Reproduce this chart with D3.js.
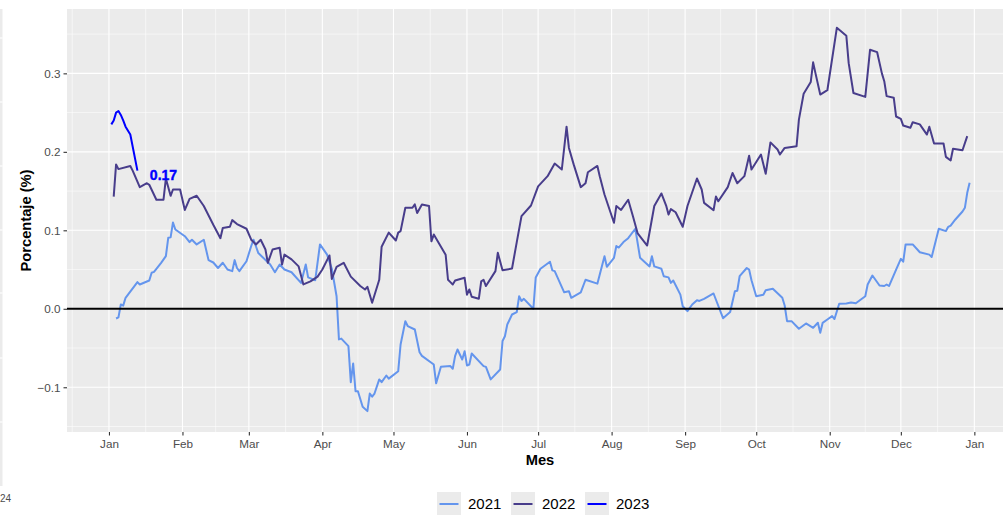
<!DOCTYPE html>
<html>
<head>
<meta charset="utf-8">
<script src="https://cdn.jsdelivr.net/npm/d3@7"></script>
<style>
  body { margin: 0; background: #fff; }
  svg { display: block; font-family: "Liberation Sans", Arial, sans-serif; }
</style>
</head>
<body>
<svg id="chart" width="1003" height="515"></svg>
<script>
// series: day of year (0 = Jan 1) and percentage
const dias2021 = [3, 4, 5, 6, 7, 12, 13, 17, 18, 19, 22, 24, 25, 26, 27, 28, 32, 34, 35, 37, 40, 42, 44, 46, 48, 50, 52, 53, 54, 55, 58, 60, 61, 63, 68, 70, 72, 74, 77, 81, 83, 84, 87, 89, 92, 94, 96, 97, 98, 101, 102, 103, 104, 105, 107, 109, 110, 111, 112, 114, 115, 117, 118, 122, 123, 125, 126, 129, 131, 132, 137, 138, 140, 144, 145, 146, 147, 149, 150, 151, 152, 153, 158, 159, 161, 165, 166, 167, 168, 170, 172, 173, 174, 175, 179, 180, 182, 186, 187, 188, 192, 194, 195, 199, 201, 206, 209, 210, 213, 214, 215, 217, 219, 222, 224, 228, 229, 230, 233, 234, 236, 237, 238, 241, 242, 244, 246, 248, 249, 251, 255, 259, 262, 264, 265, 266, 269, 270, 271, 273, 276, 277, 280, 284, 285, 286, 288, 291, 294, 297, 299, 300, 301, 303, 305, 306, 308, 311, 313, 315, 319, 320, 322, 325, 327, 328, 329, 332, 334, 335, 336, 339, 342, 346, 347, 350, 353, 354, 355, 357, 360, 361, 362, 363];
const valores2021 = [-0.0124, -0.011, 0.0055, 0.004, 0.014, 0.034, 0.031, 0.036, 0.046, 0.047, 0.0586, 0.067, 0.0904, 0.091, 0.110, 0.101, 0.0925, 0.085, 0.088, 0.082, 0.088, 0.062, 0.059, 0.052, 0.0586, 0.050, 0.048, 0.062, 0.052, 0.048, 0.0606, 0.080, 0.088, 0.071, 0.0564, 0.0466, 0.0564, 0.050, 0.0466, 0.033, 0.0564, 0.040, 0.0364, 0.082, 0.069, 0.051, 0.016, -0.039, -0.038, -0.0476, -0.0935, -0.0697, -0.105, -0.105, -0.1249, -0.1304, -0.108, -0.112, -0.108, -0.090, -0.0935, -0.085, -0.089, -0.0795, -0.0455, -0.0158, -0.022, -0.0264, -0.0553, -0.060, -0.071, -0.095, -0.0739, -0.073, -0.0764, -0.060, -0.0519, -0.0646, -0.054, -0.0722, -0.071, -0.057, -0.073, -0.074, -0.090, -0.0773, -0.041, -0.035, -0.020, -0.0073, -0.0043, 0.016, 0.010, 0.0127, 0.0, 0.040, 0.051, 0.060, 0.049, 0.048, 0.021, 0.0224, 0.014, 0.021, 0.037, 0.032, 0.067, 0.0535, 0.065, 0.080, 0.078, 0.085, 0.090, 0.102, 0.065, 0.054, 0.067, 0.054, 0.051, 0.0415, 0.040, 0.033, 0.036, 0.018, 0.0033, -0.003, 0.0055, 0.011, 0.010, 0.0127, 0.0195, -0.012, -0.004, 0.0224, 0.023, 0.0415, 0.052, 0.050, 0.0364, 0.016, 0.018, 0.0237, 0.0255, 0.014, 0.0042, -0.0158, -0.016, -0.0255, -0.0187, -0.0242, -0.0178, -0.0306, -0.018, -0.0136, -0.0094, -0.013, 0.0064, 0.0068, 0.008, 0.007, 0.016, 0.031, 0.0424, 0.0297, 0.029, 0.031, 0.029, 0.050, 0.0637, 0.060, 0.082, 0.082, 0.072, 0.069, 0.066, 0.102, 0.099, 0.1045, 0.106, 0.1138, 0.124, 0.1287, 0.1478, 0.1605];

const dias2022 = [2, 3, 4, 9, 10, 13, 16, 17, 20, 23, 24, 26, 27, 30, 32, 34, 37, 40, 44, 47, 48, 51, 52, 54, 58, 60, 62, 64, 66, 67, 69, 72, 73, 74, 77, 80, 82, 85, 88, 90, 93, 94, 96, 99, 102, 106, 108, 109, 111, 114, 115, 118, 121, 122, 123, 125, 128, 129, 130, 132, 135, 136, 137, 142, 143, 144, 145, 146, 150, 151, 152, 153, 156, 157, 158, 159, 163, 164, 166, 170, 172, 174, 178, 181, 185, 188, 191, 193, 194, 196, 199, 201, 202, 206, 207, 209, 213, 214, 216, 219, 221, 223, 227, 230, 233, 235, 236, 237, 239, 242, 244, 246, 248, 250, 251, 255, 256, 257, 261, 263, 265, 268, 270, 271, 275, 277, 279, 282, 283, 285, 290, 291, 293, 296, 297, 298, 300, 303, 307, 311, 312, 314, 319, 321, 324, 326, 327, 328, 331, 332, 334, 335, 338, 339, 342, 345, 346, 348, 352, 353, 355, 356, 360, 362];
const valores2022 = [0.143, 0.184, 0.178, 0.182, 0.176, 0.155, 0.160, 0.158, 0.139, 0.139, 0.166, 0.144, 0.152, 0.152, 0.126, 0.140, 0.144, 0.131, 0.107, 0.090, 0.103, 0.1045, 0.113, 0.108, 0.102, 0.088, 0.082, 0.088, 0.0755, 0.0586, 0.0755, 0.0777, 0.0564, 0.069, 0.063, 0.054, 0.031, 0.035, 0.041, 0.050, 0.068, 0.038, 0.0535, 0.0586, 0.041, 0.029, 0.0246, 0.028, 0.0076, 0.037, 0.079, 0.097, 0.087, 0.097, 0.099, 0.1287, 0.1287, 0.133, 0.122, 0.133, 0.131, 0.086, 0.0946, 0.069, 0.037, 0.034, 0.031, 0.036, 0.0395, 0.018, 0.0246, 0.0153, 0.0127, 0.035, 0.037, 0.029, 0.048, 0.0713, 0.049, 0.0513, 0.085, 0.118, 0.1316, 0.156, 0.169, 0.185, 0.1775, 0.232, 0.205, 0.184, 0.155, 0.160, 0.174, 0.182, 0.169, 0.1456, 0.1096, 0.131, 0.126, 0.139, 0.118, 0.096, 0.0806, 0.131, 0.147, 0.1316, 0.12, 0.127, 0.123, 0.1045, 0.131, 0.1485, 0.166, 0.152, 0.135, 0.1256, 0.143, 0.137, 0.155, 0.173, 0.16, 0.169, 0.195, 0.1775, 0.1966, 0.172, 0.212, 0.203, 0.1966, 0.205, 0.207, 0.241, 0.274, 0.289, 0.314, 0.30, 0.273, 0.2785, 0.358, 0.348, 0.313, 0.275, 0.27, 0.330, 0.327, 0.30, 0.29, 0.271, 0.269, 0.245, 0.242, 0.2335, 0.2306, 0.2377, 0.235, 0.222, 0.232, 0.2106, 0.2106, 0.1936, 0.189, 0.204, 0.202, 0.22];

const dias2023 = [1, 2, 3, 4, 5, 6, 7, 9, 12];
const valores2023 = [0.235, 0.240, 0.250, 0.252, 0.247, 0.240, 0.232, 0.222, 0.176];

const anios = ["2021", "2022", "2023"];
const colores = ["#6495ED", "#483D8B", "#0000FF"];
const ticksY = [-0.1, 0.0, 0.1, 0.2, 0.3];
const menoresY = [-0.15, -0.05, 0.05, 0.15, 0.25, 0.35];
const etiquetaDia = 23;
const etiquetaValor = 0.17;

const base = new Date(2021, 0, 1);
const toDate = d => d3.timeDay.offset(base, d);
const DAY = 864e5;

const svg = d3.select("#chart");
const panel = { left: 67, top: 9, right: 1013, bottom: 432 };

const x = d3.scaleTime()
  .domain([new Date(base.getTime() - 17.7 * DAY), new Date(base.getTime() + 381.3 * DAY)])
  .range([panel.left, panel.right]);
const y = d3.scaleLinear()
  .domain([-0.157, 0.382])
  .range([panel.bottom, panel.top]);

// leftover strip of a neighbouring plot on the far left
svg.append("rect").attr("x", 0).attr("y", 9).attr("width", 2.5).attr("height", 477).attr("fill", "#EBEBEB");
[38, 102, 166, 230, 293, 358, 422].forEach(yy => {
  svg.append("line").attr("x1", 0).attr("x2", 2.5).attr("y1", yy).attr("y2", yy)
    .attr("stroke", "#fff").attr("stroke-width", 1.1);
});
svg.append("text").attr("x", 0).attr("y", 502).attr("text-anchor", "start")
  .attr("font-size", 10).attr("fill", "#4d4d4d").text("24");

// panel
svg.append("rect")
  .attr("x", panel.left).attr("y", panel.top)
  .attr("width", panel.right - panel.left).attr("height", panel.bottom - panel.top)
  .attr("fill", "#EBEBEB");

const grid = svg.append("g");
const meses = d3.timeMonth.range(new Date(2021, 0, 1), new Date(2022, 0, 2));
const mesesExt = [new Date(2020, 11, 1)].concat(meses, [new Date(2022, 1, 1)]);
const menoresX = d3.pairs(mesesExt).map(([a, b]) => new Date((a.getTime() + b.getTime()) / 2));

menoresY.forEach(v => {
  grid.append("line").attr("x1", panel.left).attr("x2", panel.right)
    .attr("y1", y(v)).attr("y2", y(v)).attr("stroke", "#fff").attr("stroke-width", 0.55);
});
menoresX.forEach(d => {
  grid.append("line").attr("x1", x(d)).attr("x2", x(d))
    .attr("y1", panel.top).attr("y2", panel.bottom).attr("stroke", "#fff").attr("stroke-width", 0.55);
});
ticksY.forEach(v => {
  grid.append("line").attr("x1", panel.left).attr("x2", panel.right)
    .attr("y1", y(v)).attr("y2", y(v)).attr("stroke", "#fff").attr("stroke-width", 1.1);
});
meses.forEach(d => {
  grid.append("line").attr("x1", x(d)).attr("x2", x(d))
    .attr("y1", panel.top).attr("y2", panel.bottom).attr("stroke", "#fff").attr("stroke-width", 1.1);
});

// lines
const line = d3.line().x(d => x(d[0])).y(d => y(d[1]));
const series = [
  [dias2021, valores2021],
  [dias2022, valores2022],
  [dias2023, valores2023],
];
series.forEach(([dias, vals], i) => {
  svg.append("path")
    .datum(dias.map((d, k) => [toDate(d), vals[k]]))
    .attr("d", line)
    .attr("fill", "none")
    .attr("stroke", colores[i])
    .attr("stroke-width", 2)
    .attr("stroke-linejoin", "round");
});

// zero line
svg.append("line").attr("x1", panel.left).attr("x2", panel.right)
  .attr("y1", y(0)).attr("y2", y(0)).attr("stroke", "#000").attr("stroke-width", 2);

// value label
svg.append("text")
  .attr("x", x(toDate(etiquetaDia))).attr("y", y(etiquetaValor))
  .attr("dy", "0.35em").attr("text-anchor", "middle")
  .attr("font-size", 14).attr("font-weight", "bold")
  .attr("fill", "#0000FF").attr("stroke", "#0000FF").attr("stroke-width", 0.4)
  .text(etiquetaValor.toFixed(2));

// axes
const xAxis = svg.append("g")
  .attr("transform", `translate(0,${panel.bottom})`)
  .call(d3.axisBottom(x).tickValues(meses).tickFormat(d3.timeFormat("%b")).tickSize(3.5).tickPadding(4));
const yAxis = svg.append("g")
  .attr("transform", `translate(${panel.left},0)`)
  .call(d3.axisLeft(y).tickValues(ticksY).tickFormat(d3.format(".1f")).tickSize(3.5).tickPadding(3));
[xAxis, yAxis].forEach(g => {
  g.select(".domain").remove();
  g.selectAll(".tick line").attr("stroke", "#333").attr("stroke-width", 1.1);
  g.selectAll(".tick text").attr("fill", "#4d4d4d").attr("font-size", 11.7)
    .attr("font-family", "Liberation Sans, Arial, sans-serif");
});

svg.append("text")
  .attr("x", (panel.left + panel.right) / 2).attr("y", 465)
  .attr("text-anchor", "middle").attr("font-size", 14.7).attr("font-weight", "bold")
  .text("Mes");
svg.append("text")
  .attr("transform", `translate(31,${(panel.top + panel.bottom) / 2}) rotate(-90)`)
  .attr("text-anchor", "middle").attr("font-size", 14.7).attr("font-weight", "bold")
  .text("Porcentaje (%)");

// legend
const legend = svg.append("g").attr("transform", "translate(437,492)");
let lx = 0;
anios.forEach((a, i) => {
  const g = legend.append("g").attr("transform", `translate(${lx},0)`);
  g.append("rect").attr("width", 24).attr("height", 24).attr("fill", "#EBEBEB");
  g.append("line").attr("x1", 2.5).attr("x2", 21.5).attr("y1", 12).attr("y2", 12)
    .attr("stroke", colores[i]).attr("stroke-width", 2);
  g.append("text").attr("x", 31).attr("y", 12).attr("dy", "0.35em")
    .attr("font-size", 15).text(a);
  lx += 74;
});
</script>
</body>
</html>
